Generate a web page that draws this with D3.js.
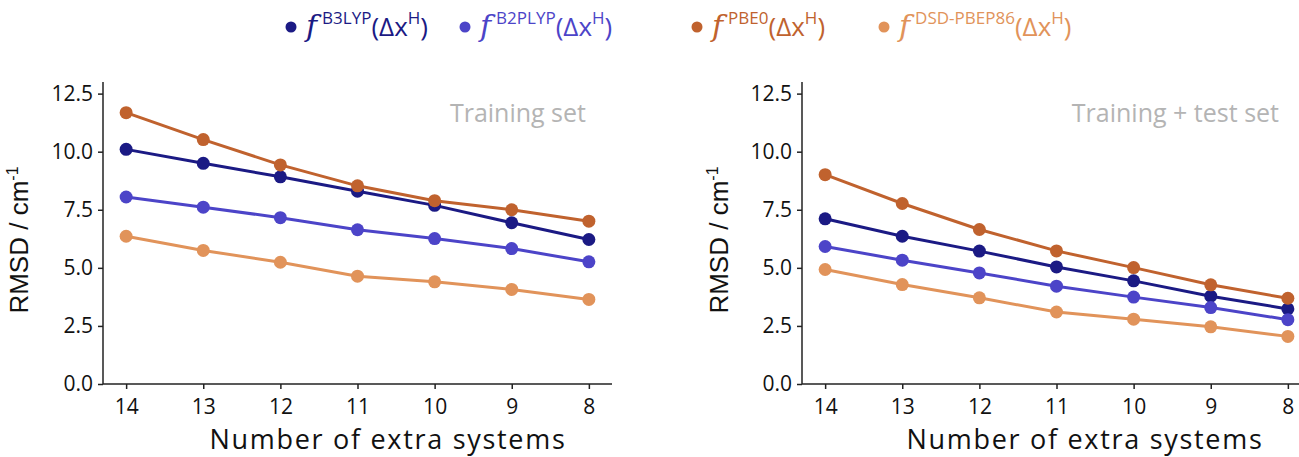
<!DOCTYPE html>
<html>
<head>
  <title>RMSD vs extra systems</title>
  <style>
    body { margin: 0; background: #fff; }
    #chart { width: 1299px; height: 457px; overflow: hidden; }
  </style>
</head>
<body>
  <div id="chart"></div>

  <script src="https://d3js.org/d3.v7.min.js"></script>
  <script>
    // Données
    const systems = [14, 13, 12, 11, 10, 9, 8];
    const yTicks = [0, 2.5, 5, 7.5, 10, 12.5];
    const methods = ["B3LYP", "B2PLYP", "PBE0", "DSD-PBEP86"];
    const colors = ["#1b1a84", "#4c44c8", "#c0622e", "#e1935a"];

    const trainB3LYP = [10.1, 9.5, 8.92, 8.3, 7.69, 6.94, 6.22];
    const trainB2PLYP = [8.05, 7.61, 7.16, 6.64, 6.26, 5.83, 5.26];
    const trainPBE0 = [11.68, 10.52, 9.43, 8.53, 7.89, 7.5, 7.01];
    const trainDSD = [6.36, 5.75, 5.24, 4.64, 4.4, 4.07, 3.64];

    const testB3LYP = [7.11, 6.36, 5.72, 5.04, 4.44, 3.78, 3.23];
    const testB2PLYP = [5.92, 5.33, 4.78, 4.21, 3.74, 3.29, 2.77];
    const testPBE0 = [9.01, 7.77, 6.65, 5.73, 5.01, 4.27, 3.69];
    const testDSD = [4.93, 4.28, 3.71, 3.1, 2.79, 2.46, 2.05];

    const width = 1299, height = 457;
    const svg = d3.select("#chart").append("svg")
      .attr("width", width).attr("height", height);

    const panels = [
      { title: "Training set", x0: 103, x1: 612, xt: 586, xlab: 388, ylab: 28,
        series: [trainB3LYP, trainB2PLYP, trainPBE0, trainDSD] },
      { title: "Training + test set", x0: 802, x1: 1311, xt: 1279, xlab: 1085, ylab: 728,
        series: [testB3LYP, testB2PLYP, testPBE0, testDSD] }
    ];

    const y = d3.scaleLinear().domain([0, 13]).range([384, 82]);
    const mainFont = "'Open Sans', Lato, sans-serif";

    panels.forEach(p => {
      const x = d3.scaleLinear().domain([14.3, 7.7]).range([p.x0, p.x1]);
      const g = svg.append("g");

      // Axes
      const xAxis = g.append("g")
        .attr("transform", "translate(0,384)")
        .call(d3.axisBottom(x).tickValues(systems).tickSize(5).tickPadding(10).tickFormat(d3.format("d")));
      const yAxis = g.append("g")
        .attr("transform", `translate(${p.x0},0)`)
        .call(d3.axisLeft(y).tickValues(yTicks).tickSize(5).tickPadding(5).tickFormat(d3.format(".1f")));

      [xAxis, yAxis].forEach(a => {
        a.select(".domain").attr("stroke", "#222").attr("stroke-width", 1.5);
        a.selectAll(".tick line").attr("stroke", "#222").attr("stroke-width", 1.5);
        a.selectAll(".tick text").attr("fill", "#111")
          .style("font-family", mainFont).style("font-size", "21px");
      });
      // pas de crochets aux extrémités
      xAxis.select(".domain").attr("d", `M${p.x0},0H${p.x1}`);
      yAxis.select(".domain").attr("d", `M0,${y(13)}V${y(0)}`);

      // Lignes et points
      const line = d3.line().x((d, i) => x(systems[i])).y(d => y(d));
      p.series.forEach((vals, k) => {
        g.append("path").datum(vals)
          .attr("d", line).attr("fill", "none")
          .attr("stroke", colors[k]).attr("stroke-width", 3);
        g.selectAll(null).data(vals).enter().append("circle")
          .attr("cx", (d, i) => x(systems[i])).attr("cy", d => y(d))
          .attr("r", 6.5).attr("fill", colors[k]);
      });

      // Titre du panneau
      g.append("text")
        .attr("x", p.xt).attr("y", 122)
        .attr("text-anchor", "end")
        .style("font-family", mainFont).style("font-size", "25px")
        .attr("fill", "#b4b4b4").text(p.title);

      // Libellés des axes
      g.append("text")
        .attr("x", p.xlab).attr("y", 449)
        .attr("text-anchor", "middle")
        .style("font-family", mainFont).style("font-size", "27px")
        .style("letter-spacing", "1.7px")
        .attr("fill", "#111").text("Number of extra systems");

      const yl = g.append("text")
        .attr("transform", `translate(${p.ylab},240) rotate(-90)`)
        .attr("text-anchor", "middle")
        .style("font-family", "'Liberation Sans', Arial, sans-serif").style("font-size", "26px")
        .attr("fill", "#111");
      yl.append("tspan").text("RMSD / cm");
      yl.append("tspan").attr("dy", -10).style("font-size", "16px").text("-1");
    });

    // Légende
    const legendX = [291, 465, 697, 884];
    const leg = svg.append("g");
    methods.forEach((m, k) => {
      leg.append("circle").attr("cx", legendX[k]).attr("cy", 27).attr("r", 5.5).attr("fill", colors[k]);
      const t = leg.append("text")
        .attr("x", legendX[k] + 15).attr("y", 36)
        .attr("fill", colors[k])
        .style("font-family", mainFont).style("font-size", "26px");
      t.append("tspan").style("font-family", "'DejaVu Serif', serif").style("font-style", "italic")
        .style("font-size", "30px").text("f");
      t.append("tspan").attr("dx", 5).attr("dy", -12).style("font-size", "17px").text(m);
      t.append("tspan").attr("dy", 12).text("(Δx");
      t.append("tspan").attr("dy", -12).style("font-size", "17px").text("H");
      t.append("tspan").attr("dy", 12).text(")");
    });
  </script>
</body>
</html>
